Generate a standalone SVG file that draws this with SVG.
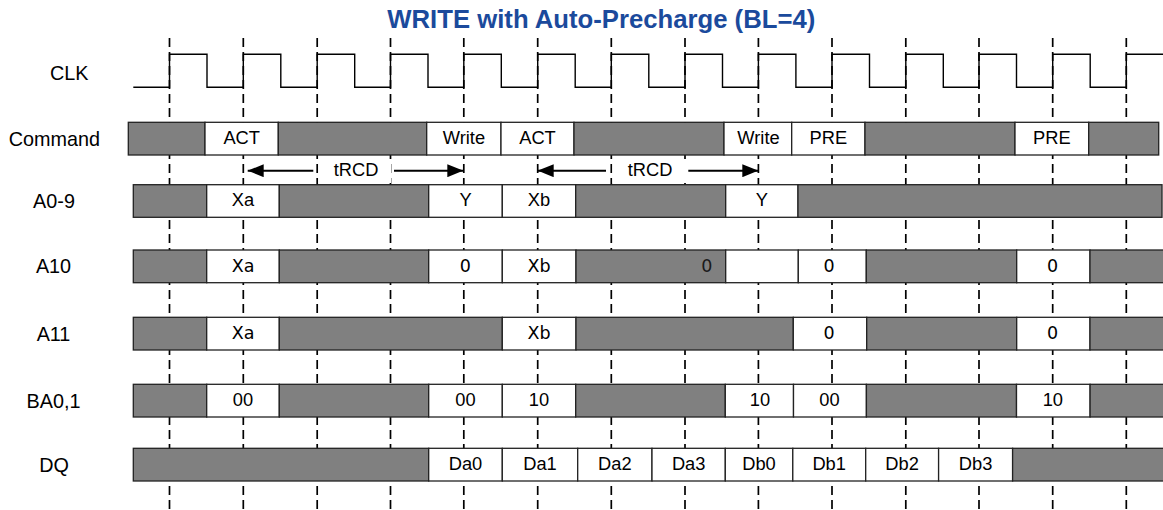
<svg xmlns="http://www.w3.org/2000/svg" width="1163" height="510" viewBox="0 0 1163 510">
<style>
.g{fill:#808080;stroke:#222;stroke-width:1.3}
.w{fill:#fff;stroke:#222;stroke-width:1.3}
.t{font-family:"Liberation Sans",Arial,sans-serif;font-size:18.3px;fill:#000;text-anchor:middle}
.d{font-family:"DejaVu Sans",sans-serif;font-size:17.5px;fill:#000;text-anchor:middle}
.lbl{font-family:"Liberation Sans",Arial,sans-serif;font-size:19.8px;fill:#000;text-anchor:middle}
.grid line{stroke:#000;stroke-width:1.7;stroke-dasharray:9 5}
.arr{stroke:#000;stroke-width:2;fill:none;marker-end:url(#ah)}
</style>
<defs>
<marker id="ah" markerUnits="userSpaceOnUse" markerWidth="16" markerHeight="13" refX="16" refY="6.5" orient="auto">
<path d="M0,0 L16,6.5 L0,13 z" fill="#000"/>
</marker>
</defs>
<rect width="1163" height="510" fill="#fff"/>
<text x="601.3" y="27.5" style="font-family:'Liberation Sans',Arial,sans-serif;font-size:25.7px;font-weight:bold;fill:#1B4A9C;text-anchor:middle">WRITE with Auto-Precharge (BL=4)</text>
<g id="grid" class="grid">
<line x1="169.5" y1="38" x2="169.5" y2="510"/>
<line x1="243.3" y1="38" x2="243.3" y2="510"/>
<line x1="317.2" y1="38" x2="317.2" y2="510"/>
<line x1="390.5" y1="38" x2="390.5" y2="510"/>
<line x1="463.8" y1="38" x2="463.8" y2="510"/>
<line x1="537.7" y1="38" x2="537.7" y2="510"/>
<line x1="611.3" y1="38" x2="611.3" y2="510"/>
<line x1="685" y1="38" x2="685" y2="510"/>
<line x1="758.4" y1="38" x2="758.4" y2="510"/>
<line x1="832" y1="38" x2="832" y2="510"/>
<line x1="905.8" y1="38" x2="905.8" y2="510"/>
<line x1="979" y1="38" x2="979" y2="510"/>
<line x1="1052.7" y1="38" x2="1052.7" y2="510"/>
<line x1="1126.3" y1="38" x2="1126.3" y2="510"/>
</g>
<g id="labels">
<text class="lbl" x="69.3" y="80">CLK</text>
<text class="lbl" x="54.3" y="145.8">Command</text>
<text class="lbl" x="54" y="208.3">A0-9</text>
<text class="lbl" x="53.5" y="273.3">A10</text>
<text class="lbl" x="53.5" y="340.8">A11</text>
<text class="lbl" x="53.5" y="407.8">BA0,1</text>
<text class="lbl" x="54" y="471.8">DQ</text>
</g>
<g id="clk">
<path d="M133.3,87.3 H169.5 V54.3 H207 V87.3 H243.3 V54.3 H280.8 V87.3 H317.2 V54.3 H354.7 V87.3 H390.5 V54.3 H428 V87.3 H463.8 V54.3 H501.3 V87.3 H537.7 V54.3 H575.2 V87.3 H611.3 V54.3 H648.8 V87.3 H685 V54.3 H722.5 V87.3 H758.4 V54.3 H795.9 V87.3 H832 V54.3 H869.5 V87.3 H905.8 V54.3 H943.3 V87.3 H979 V54.3 H1016.5 V87.3 H1052.7 V54.3 H1090.2 V87.3 H1126.3 V54.3 H1164" fill="none" stroke="#000" stroke-width="1.4"/>
</g>
<g id="command">
<rect class="g" x="128.3" y="122.3" width="76.7" height="32.7"/>
<rect class="w" x="205" y="122.3" width="73.3" height="32.7"/>
<rect class="g" x="278.3" y="122.3" width="148.4" height="32.7"/>
<rect class="w" x="426.7" y="122.3" width="74.3" height="32.7"/>
<rect class="w" x="501" y="122.3" width="73" height="32.7"/>
<rect class="g" x="574" y="122.3" width="150" height="32.7"/>
<rect class="w" x="724" y="122.3" width="67.7" height="32.7"/>
<rect class="w" x="791.7" y="122.3" width="73.3" height="32.7"/>
<rect class="g" x="865" y="122.3" width="150" height="32.7"/>
<rect class="w" x="1015" y="122.3" width="73.7" height="32.7"/>
<rect class="g" x="1088.7" y="122.3" width="70" height="32.7"/>
<text class="t" x="241.7" y="144">ACT</text>
<text class="t" x="463.9" y="144">Write</text>
<text class="t" x="537.5" y="144">ACT</text>
<text class="t" x="758.5" y="144">Write</text>
<text class="t" x="828.3" y="144">PRE</text>
<text class="t" x="1051.8" y="144">PRE</text>
</g>
<g id="trcd1">
<rect x="318.5" y="159" width="72.5" height="24" fill="#fff"/>
<text class="t" x="356" y="175.7">tRCD</text>
</g>
<g id="trcd2">
<rect x="612.5" y="159" width="73.5" height="24" fill="#fff"/>
<text class="t" x="650" y="175.7">tRCD</text>
</g>
<g id="connectors">
<line class="arr" x1="313.3" y1="170.7" x2="247.7" y2="170.7"/>
<line class="arr" x1="394" y1="170.7" x2="463.3" y2="170.7"/>
<line class="arr" x1="606" y1="170.7" x2="537.7" y2="170.7"/>
<line class="arr" x1="688.3" y1="170.7" x2="758.3" y2="170.7"/>
</g>
<g id="a0-9">
<rect class="g" x="133.3" y="184.7" width="73.4" height="32.6"/>
<rect class="w" x="206.7" y="184.7" width="72.6" height="32.6"/>
<rect class="g" x="279.3" y="184.7" width="149.4" height="32.6"/>
<rect class="w" x="428.7" y="184.7" width="73.6" height="32.6"/>
<rect class="w" x="502.3" y="184.7" width="73.4" height="32.6"/>
<rect class="g" x="575.7" y="184.7" width="150" height="32.6"/>
<rect class="w" x="725.7" y="184.7" width="72.3" height="32.6"/>
<rect class="g" x="798" y="184.7" width="364" height="32.6"/>
<text class="t" x="243" y="206.4">Xa</text>
<text class="t" x="465.5" y="206.4">Y</text>
<text class="t" x="539" y="206.4">Xb</text>
<text class="t" x="761.8" y="206.4">Y</text>
</g>
<g id="a10">
<rect class="g" x="133.3" y="250" width="73.4" height="32.7"/>
<rect class="w" x="206.7" y="250" width="72.6" height="32.7"/>
<rect class="g" x="279.3" y="250" width="149.4" height="32.7"/>
<rect class="w" x="428.7" y="250" width="73.6" height="32.7"/>
<rect class="w" x="502.3" y="250" width="73.7" height="32.7"/>
<rect class="g" x="576" y="250" width="149.7" height="32.7"/>
<rect class="w" x="725.7" y="250" width="72.6" height="32.7"/>
<rect class="w" x="798.3" y="250" width="68" height="32.7"/>
<rect class="g" x="866.3" y="250" width="150.4" height="32.7"/>
<rect class="w" x="1016.7" y="250" width="73.3" height="32.7"/>
<rect class="g" x="1090" y="250" width="74" height="32.7"/>
<text class="d" x="243" y="272.3">Xa</text>
<text class="d" x="465.3" y="272.3">0</text>
<text class="d" x="539" y="272.3">Xb</text>
<text class="d" x="706.7" y="272.3" style="fill:#1a1a1a">0</text>
<text class="d" x="829" y="272.3">0</text>
<text class="d" x="1052.5" y="272.3">0</text>
</g>
<g id="a11">
<rect class="g" x="133.3" y="317.3" width="73.4" height="32.7"/>
<rect class="w" x="206.7" y="317.3" width="72.6" height="32.7"/>
<rect class="g" x="279.3" y="317.3" width="223" height="32.7"/>
<rect class="w" x="502.3" y="317.3" width="73.7" height="32.7"/>
<rect class="g" x="576" y="317.3" width="217.3" height="32.7"/>
<rect class="w" x="793.3" y="317.3" width="73.4" height="32.7"/>
<rect class="g" x="866.7" y="317.3" width="150" height="32.7"/>
<rect class="w" x="1016.7" y="317.3" width="73.3" height="32.7"/>
<rect class="g" x="1090" y="317.3" width="74" height="32.7"/>
<text class="d" x="243" y="339">Xa</text>
<text class="d" x="539" y="339">Xb</text>
<text class="d" x="829" y="339">0</text>
<text class="d" x="1052.5" y="339">0</text>
</g>
<g id="ba01">
<rect class="g" x="133.3" y="384.3" width="73.4" height="32.7"/>
<rect class="w" x="206.7" y="384.3" width="72.6" height="32.7"/>
<rect class="g" x="279.3" y="384.3" width="149.4" height="32.7"/>
<rect class="w" x="428.7" y="384.3" width="73.6" height="32.7"/>
<rect class="w" x="502.3" y="384.3" width="73.4" height="32.7"/>
<rect class="g" x="575.7" y="384.3" width="149.6" height="32.7"/>
<rect class="w" x="725.3" y="384.3" width="68.2" height="32.7"/>
<rect class="w" x="793.5" y="384.3" width="72.9" height="32.7"/>
<rect class="g" x="866.4" y="384.3" width="150.1" height="32.7"/>
<rect class="w" x="1016.5" y="384.3" width="73.6" height="32.7"/>
<rect class="g" x="1090.1" y="384.3" width="74" height="32.7"/>
<text class="t" x="243" y="405.7">00</text>
<text class="t" x="465.5" y="405.7">00</text>
<text class="t" x="539" y="405.7">10</text>
<text class="t" x="760" y="405.7">10</text>
<text class="t" x="829.5" y="405.7">00</text>
<text class="t" x="1052.8" y="405.7">10</text>
</g>
<g id="dq">
<rect class="g" x="133.3" y="448.3" width="295.4" height="32.7"/>
<rect class="w" x="428.7" y="448.3" width="73.6" height="32.7"/>
<rect class="w" x="502.3" y="448.3" width="75.4" height="32.7"/>
<rect class="w" x="577.7" y="448.3" width="74.3" height="32.7"/>
<rect class="w" x="652" y="448.3" width="73.3" height="32.7"/>
<rect class="w" x="725.3" y="448.3" width="67.5" height="32.7"/>
<rect class="w" x="792.8" y="448.3" width="72.9" height="32.7"/>
<rect class="w" x="865.7" y="448.3" width="72.9" height="32.7"/>
<rect class="w" x="938.6" y="448.3" width="74" height="32.7"/>
<rect class="g" x="1012.6" y="448.3" width="151.4" height="32.7"/>
<text class="t" x="465.5" y="470">Da0</text>
<text class="t" x="540" y="470">Da1</text>
<text class="t" x="614.8" y="470">Da2</text>
<text class="t" x="688.7" y="470">Da3</text>
<text class="t" x="759" y="470">Db0</text>
<text class="t" x="829.2" y="470">Db1</text>
<text class="t" x="902.1" y="470">Db2</text>
<text class="t" x="975.6" y="470">Db3</text>
</g>
</svg>
